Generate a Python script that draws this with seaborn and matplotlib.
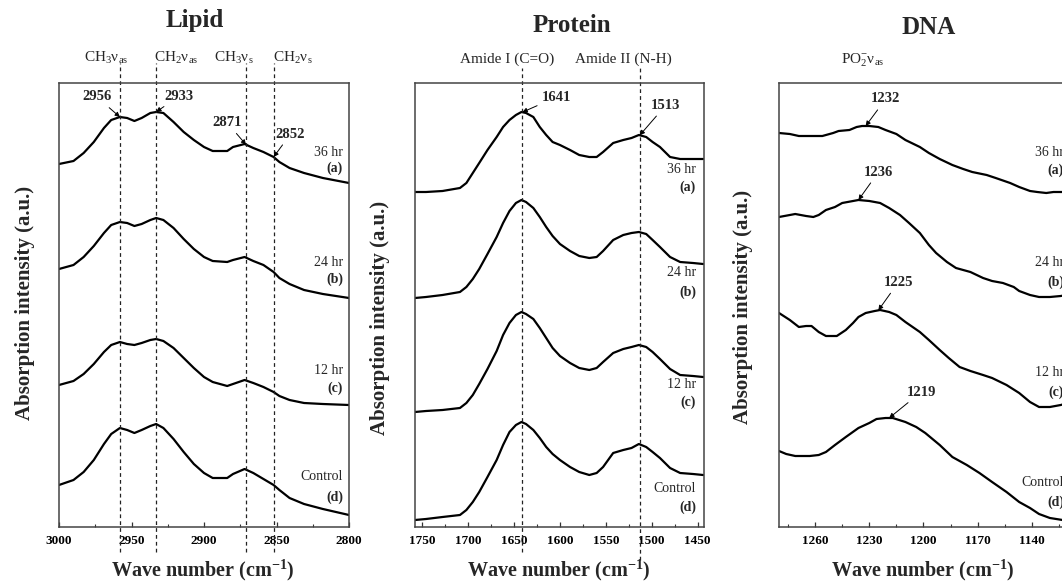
import numpy as np
import pandas as pd
import matplotlib
matplotlib.use("Agg")
import matplotlib.pyplot as plt
import seaborn as sns
from matplotlib.ticker import MultipleLocator

# ---------------- data (absorbance in arbitrary units, stacked) ----------------
series_names = ["36 hr", "24 hr", "12 hr", "Control"]
series_tags = ["(a)", "(b)", "(c)", "(d)"]

lipid_wn = [3000, 2990, 2983, 2976, 2969, 2964, 2958, 2953, 2948, 2943, 2937, 2933, 2928, 2921, 2914,
            2907, 2900, 2894, 2884, 2880, 2872, 2866, 2859, 2852, 2848, 2841, 2831, 2818, 2800]
lipid_36 = [363, 366, 374, 385, 399, 407, 410, 409, 406, 409, 414, 415, 414, 405, 395,
            387, 380, 376, 376, 380, 383, 379, 375, 370, 365, 359, 354, 349, 344]
lipid_24 = [258, 262, 270, 281, 294, 302, 305, 304, 301, 303, 307, 309, 307, 299, 288,
            278, 270, 266, 265, 267, 270, 266, 262, 255, 249, 243, 237, 233, 229]
lipid_12 = [142, 146, 153, 163, 175, 182, 185, 183, 182, 184, 187, 188, 186, 179, 169,
            159, 150, 145, 141, 143, 147, 144, 140, 135, 131, 127, 124, 123, 122]
lipid_ctl = [42, 47, 55, 67, 83, 93, 99, 97, 94, 97, 101, 103, 99, 88, 75,
             63, 54, 49, 49, 53, 58, 54, 48, 42, 37, 29, 23, 18, 12]
lipid_bands = [2958, 2933, 2871, 2852]
lipid_peaks = [2956, 2933, 2871, 2852]

protein_wn = [1758, 1746, 1728, 1709, 1702, 1695, 1688, 1679, 1669, 1662, 1655, 1648, 1642, 1637, 1629,
              1622, 1615, 1608, 1600, 1589, 1579, 1568, 1560, 1553, 1542, 1531, 1522, 1514, 1506, 1499,
              1491, 1480, 1469, 1455, 1444]
protein_36 = [335, 335, 336, 339, 344, 354, 364, 377, 390, 400, 407, 412, 415, 414, 410,
              400, 392, 385, 382, 377, 372, 370, 370, 375, 384, 387, 389, 392, 390, 385,
              380, 370, 368, 368, 368]
protein_24 = [229, 230, 232, 235, 240, 248, 258, 273, 290, 304, 316, 324, 327, 325, 319,
              310, 300, 291, 283, 276, 271, 269, 270, 276, 287, 292, 294, 295, 293, 287,
              280, 270, 265, 264, 263]
protein_12 = [115, 116, 117, 119, 124, 132, 143, 158, 176, 192, 204, 212, 215, 213, 208,
              199, 189, 179, 171, 164, 159, 157, 159, 165, 174, 178, 180, 182, 180, 175,
              168, 158, 152, 151, 150]
protein_ctl = [7, 8, 10, 12, 17, 25, 35, 50, 67, 82, 95, 102, 105, 103, 97,
               89, 80, 73, 67, 60, 55, 52, 54, 60, 74, 77, 79, 83, 80, 75,
               69, 59, 54, 53, 52]
protein_bands = [1641, 1513]
protein_peaks = [1641, 1513]

dna_wn_36 = [1280, 1274, 1269, 1262, 1256, 1250, 1247, 1241, 1237, 1234, 1230, 1225, 1221, 1215, 1210, 1202,
             1197, 1191, 1184, 1178, 1173, 1165, 1160, 1152, 1147, 1141, 1137, 1132, 1128, 1123, 1118]
dna_36 = [394, 393, 391, 391, 391, 394, 396, 397, 400, 401, 401, 400, 397, 393, 387, 380,
          374, 368, 362, 358, 355, 352, 349, 344, 340, 336, 335, 334, 335, 335, 337]
dna_wn_24 = [1280, 1274, 1271, 1265, 1261, 1258, 1254, 1249, 1245, 1239, 1236, 1230, 1224, 1219, 1213, 1208,
             1202, 1197, 1193, 1187, 1182, 1174, 1167, 1162, 1156, 1150, 1147, 1141, 1136, 1130, 1124, 1118]
dna_24 = [310, 312, 313, 311, 310, 312, 317, 320, 324, 326, 327, 326, 324, 319, 312, 304,
          294, 282, 274, 265, 259, 255, 249, 246, 244, 240, 236, 232, 230, 230, 231, 233]
dna_wn_12 = [1280, 1274, 1269, 1265, 1262, 1258, 1254, 1248, 1243, 1239, 1236, 1232, 1227, 1224, 1219, 1215,
             1210, 1202, 1197, 1191, 1186, 1180, 1174, 1167, 1162, 1154, 1147, 1141, 1136, 1130, 1124, 1118]
dna_12 = [214, 207, 200, 201, 201, 195, 191, 191, 197, 204, 210, 214, 216, 217, 215, 212,
          205, 195, 187, 177, 169, 160, 156, 152, 149, 142, 134, 125, 120, 120, 122, 125]
dna_wn_ctl = [1280, 1276, 1271, 1263, 1258, 1254, 1249, 1243, 1236, 1230, 1226, 1221, 1217, 1210, 1204, 1199,
              1191, 1184, 1176, 1169, 1162, 1154, 1147, 1141, 1136, 1130, 1123, 1118]
dna_ctl = [76, 73, 71, 71, 72, 75, 82, 90, 99, 104, 108, 109, 109, 105, 100, 94,
           82, 70, 62, 54, 45, 35, 25, 19, 13, 9, 7, 6]
dna_peaks = [1232, 1236, 1225, 1219]

lipid_ticks = [3000, 2950, 2900, 2850, 2800]
protein_ticks = [1750, 1700, 1650, 1600, 1550, 1500, 1450]
dna_ticks = [1260, 1230, 1200, 1170, 1140]

# ---------------- style ----------------
sns.set_style("ticks")
plt.rcParams['font.family'] = ['Liberation Serif', 'DejaVu Serif']
plt.rcParams['mathtext.fontset'] = 'custom'
plt.rcParams['mathtext.rm'] = 'Liberation Serif'
plt.rcParams['mathtext.it'] = 'Liberation Serif:italic'
plt.rcParams['mathtext.bf'] = 'Liberation Serif:bold'

W, H = 1062, 583
fig = plt.figure(figsize=(W / 100, H / 100), dpi=100)


def box(l, t, r, b):
    return [l / W, 1 - b / H, (r - l) / W, (b - t) / H]


def fx(x):
    return x / W


def fy(y):
    return 1 - y / H


def setup_axes(ax, xlim, ticks, minor):
    ax.set_xlim(*xlim)
    ax.set_ylim(0, 444)
    ax.set_xticks(ticks)
    ax.xaxis.set_minor_locator(MultipleLocator(minor))
    ax.set_yticks([])
    ax.tick_params(axis='x', which='major', direction='in', length=3.5, width=0.9,
                   pad=6, labelsize=9.5, colors='#333333', labelcolor='black')
    ax.tick_params(axis='x', which='minor', direction='in', length=2, width=0.8, colors='#333333')
    for lab in ax.get_xticklabels():
        lab.set_fontweight('bold')
    for s in ax.spines.values():
        s.set_linewidth(1.1)
        s.set_color('#444444')
    ax.set_xlabel("")
    ax.set_ylabel("")


def draw_curves(ax, xs_list, ys_list):
    for xs, ys in zip(xs_list, ys_list):
        df = pd.DataFrame({"wn": xs, "a": ys})
        sns.lineplot(data=df, x="wn", y="a", ax=ax, color="black", lw=1.6,
                     estimator=None, legend=False)


def vline(ax, x, ytop, ybot):
    ax.plot([x, x], [ybot, ytop], ls=(0, (3, 2.5)), lw=0.9, color='#222222', clip_on=False)


def peak_note(ax, x, xs, ys, label, dx, dy):
    order = np.argsort(xs)
    yv = np.interp(x, np.asarray(xs)[order], np.asarray(ys)[order])
    ax.annotate(label, xy=(x, yv), xytext=(dx, dy), textcoords='offset pixels',
                ha='center', va='center', fontsize=10.5, fontweight='bold',
                arrowprops=dict(arrowstyle='-|>', color='black', lw=0.7,
                                mutation_scale=7, shrinkA=1, shrinkB=0))


def curve_labels(right_px, ys_px):
    for (y1, y2), nm, tg in zip(ys_px, series_names, series_tags):
        fig.text(fx(right_px), fy(y1), nm, ha='right', va='center', fontsize=10)
        fig.text(fx(right_px), fy(y2), tg, ha='right', va='center', fontsize=10, fontweight='bold')


# ---------------- Lipid ----------------
ax1 = fig.add_axes(box(59, 83, 349, 527))
lip_series = [lipid_36, lipid_24, lipid_12, lipid_ctl]
draw_curves(ax1, [lipid_wn] * 4, lip_series)
setup_axes(ax1, (3000, 2800), lipid_ticks, 25)
for b in lipid_bands:
    vline(ax1, b, 464, -25)
lip_offs = [(-23, 20), (23, 16), (-19, 22), (17, 23)]
for b, pk, (dx, dy) in zip(lipid_bands, lipid_peaks, lip_offs):
    peak_note(ax1, b, lipid_wn, lipid_36, str(pk), dx, dy)
curve_labels(343, [(152, 168), (262, 279), (371, 388), (477, 497)])

# ---------------- Protein ----------------
ax2 = fig.add_axes(box(415, 83, 704, 527))
pro_series = [protein_36, protein_24, protein_12, protein_ctl]
draw_curves(ax2, [protein_wn] * 4, pro_series)
setup_axes(ax2, (1758, 1443), protein_ticks, 25)
vline(ax2, protein_bands[0], 459, -25)
vline(ax2, protein_bands[1], 459, -33)
pro_offs = [(34, 15), (26, 30)]
for b, pk, (dx, dy) in zip(protein_bands, protein_peaks, pro_offs):
    peak_note(ax2, b, protein_wn, protein_36, str(pk), dx, dy)
curve_labels(696, [(169, 187), (272, 292), (385, 402), (488, 507)])

# ---------------- DNA ----------------
ax3 = fig.add_axes(box(779, 83, 1086, 527))
dna_x = [dna_wn_36, dna_wn_24, dna_wn_12, dna_wn_ctl]
dna_series = [dna_36, dna_24, dna_12, dna_ctl]
draw_curves(ax3, dna_x, dna_series)
setup_axes(ax3, (1280, 1110), dna_ticks, 15)
dna_offs = [(20, 27), (20, 28), (20, 28), (32, 26)]
for pk, xs, ys, (dx, dy) in zip(dna_peaks, dna_x, dna_series, dna_offs):
    peak_note(ax3, pk, xs, ys, str(pk), dx, dy)
curve_labels(1064, [(153, 170), (263, 282), (373, 392), (483, 502)])

# ---------------- titles / band labels / axis labels ----------------
fig.text(fx(195), fy(20), "Lipid", ha='center', va='center', fontsize=18, fontweight='bold')
fig.text(fx(572), fy(25), "Protein", ha='center', va='center', fontsize=18, fontweight='bold')
fig.text(fx(929), fy(27), "DNA", ha='center', va='center', fontsize=18, fontweight='bold')

band_fs = 11
fig.text(fx(106), fy(58), r"CH$_3$ν$_{\mathrm{as}}$", ha='center', va='center', fontsize=band_fs)
fig.text(fx(176), fy(58), r"CH$_2$ν$_{\mathrm{as}}$", ha='center', va='center', fontsize=band_fs)
fig.text(fx(234), fy(58), r"CH$_3$ν$_{\mathrm{s}}$", ha='center', va='center', fontsize=band_fs)
fig.text(fx(293), fy(58), r"CH$_2$ν$_{\mathrm{s}}$", ha='center', va='center', fontsize=band_fs)
fig.text(fx(507), fy(59), "Amide I (C=O)", ha='center', va='center', fontsize=band_fs)
fig.text(fx(623), fy(59), "Amide II (N-H)", ha='center', va='center', fontsize=band_fs)
fig.text(fx(863), fy(60), r"PO$_2^{-}$ν$_{\mathrm{as}}$", ha='center', va='center', fontsize=band_fs)

xlab = r"Wave number (cm$^{\mathbf{-1}}$)"
for cx in (203, 559, 923):
    fig.text(fx(cx), fy(570), xlab, ha='center', va='center', fontsize=14.5, fontweight='bold')
for cx, cy in ((25, 303), (380, 318), (743, 307)):
    fig.text(fx(cx), fy(cy), "Absorption intensity (a.u.)", ha='center', va='center',
             rotation=90, fontsize=15, fontweight='bold')

fig.savefig("out.png", dpi=100)
